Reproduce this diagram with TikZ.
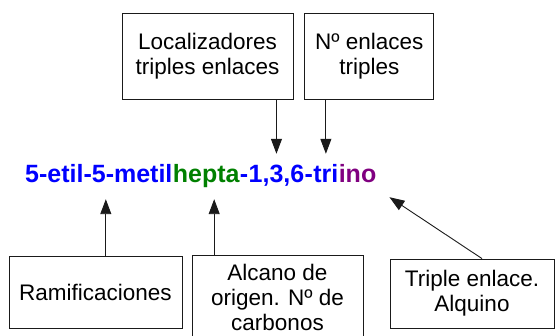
\documentclass[tikz,border=0pt]{standalone}
\usepackage{fontspec}
\setmainfont{Liberation Sans}
\usepackage{xcolor}
\usepackage{tikz}
\usetikzlibrary{arrows.meta,positioning}
\definecolor{NameBlue}{HTML}{0000FF}
\definecolor{NameGreen}{HTML}{008000}
\definecolor{NamePurple}{HTML}{800080}
\definecolor{NameInk}{HTML}{1A1A1A}

\begin{document}
\begin{tikzpicture}[x=1pt,y=-1pt,
  box/.style={draw=NameInk,line width=0.8pt,align=center,inner sep=2pt,font=\fontsize{22.5}{25}\selectfont},
  part/.style={inner xsep=0pt,inner ysep=11pt,text height=18pt,text depth=5pt,font=\fontsize{25}{30}\selectfont\bfseries},
  edge/.style={-{Triangle[length=15pt,width=11pt]},draw=NameInk,line width=0.9pt}
]
\useasboundingbox (0,0) rectangle (555,336);
% nombre del compuesto, por partes
\node[part,text=NameBlue,anchor=base west] (branches) at (25,183) {5-etil-5-metil};
\node[part,text=NameGreen,base right=0pt of branches] (hepta) {hepta};
\node[part,text=NameBlue,base right=0pt of hepta] (dashA) {-};
\node[part,text=NameBlue,base right=0pt of dashA] (locants) {1,3,6};
\node[part,text=NameBlue,base right=0pt of locants] (dashB) {-};
\node[part,text=NameBlue,base right=0pt of dashB] (tri) {tri};
\node[part,text=NamePurple,base right=0pt of tri] (ino) {ino};
% cajas
\node[box,minimum width=171pt,minimum height=86pt] (locBox) at (207.5,56) {Localizadores\\triples enlaces};
\node[box,minimum width=129pt,minimum height=86pt,right=11pt of locBox] (countBox) {Nº enlaces\\triples};
\node[box,minimum width=173pt,minimum height=72pt] (branchBox) at (95.5,292) {Ramificaciones};
\node[box,minimum width=171pt,minimum height=84pt,anchor=north] (parentBox) at (277.5,255) {Alcano de\\origen. Nº de\\carbonos};
\node[box,minimum width=164pt,minimum height=69pt] (tripleBox) at (472,293.5) {Triple enlace.\\Alquino};
% flechas
\coordinate (branchTip) at ([xshift=7pt]branches.south);
\coordinate (parentTip) at ([xshift=8pt]hepta.south);
\draw[edge] (locBox.south -| locants.north) -- (locants.north);
\draw[edge] (countBox.south -| tri.north) -- (tri.north);
\draw[edge] (branchTip |- branchBox.north) -- (branchTip);
\draw[edge] (parentTip |- parentBox.north) -- (parentTip);
\draw[edge] ([xshift=10pt]tripleBox.north) -- ([xshift=13pt,yshift=2pt]ino.south east);
\end{tikzpicture}
\end{document}
